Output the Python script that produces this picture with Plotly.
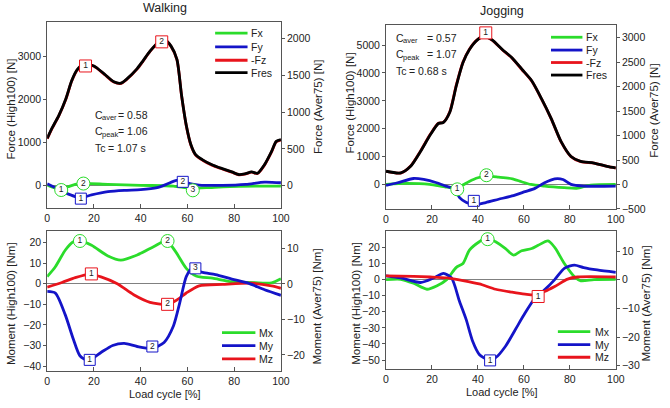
import plotly.graph_objects as go

W, H = 670, 408
FONT = "Liberation Sans, Arial, sans-serif"
GREEN, BLUE, RED, BLACK = "#2bdc2b", "#1414c8", "#e8141c", "#000000"

# ---------------- data ----------------
# Walking forces [N]
walk_fres_x = [0, 2, 5, 8, 10.5, 13, 16, 20, 24.5, 28.5, 31.5, 34, 38.5, 41, 44, 47, 50.5, 53, 55.5, 57.5,
               59.5, 61.5, 63.5, 66.5, 70.5, 74, 79, 82, 84.5, 87.5, 90, 93, 96, 98, 100]
walk_fres = [1100, 1330, 1635, 2020, 2440, 2705, 2820, 2780, 2590, 2415, 2380, 2475, 2720, 2900, 3125, 3300,
             3380, 3240, 2935, 2095, 1405, 950, 720, 600, 485, 413, 320, 260, 275, 320, 290, 490, 795, 1030, 1070]
walk_fz = [1090, 1320, 1625, 2010, 2430, 2695, 2812, 2772, 2582, 2407, 2372, 2467, 2712, 2892, 3117, 3292,
           3372, 3232, 2925, 2085, 1395, 940, 712, 592, 478, 406, 314, 254, 268, 314, 284, 482, 785, 1020, 1060]
walk_fx_x = [0, 3, 6, 9, 12, 16, 26, 40, 54, 61, 68, 82, 100]
walk_fx = [15, -46, -84, -23, 31, 54, 30, 8, -8, -61, -46, -15, -10]
walk_fy_x = [0, 3.5, 7.7, 12, 14.7, 19, 26, 33, 40, 47, 51, 55.3, 58, 61, 65, 75, 85, 93, 100]
walk_fy = [46, -46, -160, -252, -275, -214, -138, -107, -92, -46, 31, 122, 107, 46, 15, 8, 31, 84, 69]

# Jogging forces [N]
jog_fres_x = [0, 6.4, 10.7, 15, 19.2, 22.8, 24.9, 27.8, 30.6, 33.5, 36.3, 39.9, 42.7, 46.3, 50.6, 54.8,
              59.1, 63.4, 67.7, 71.9, 76.2, 80.5, 84.7, 90.5, 96.2, 100]
jog_fres = [473, 414, 650, 1182, 1773, 2187, 2222, 2600, 3546, 4373, 4846, 5200, 5319, 5177, 4846, 4550,
            4137, 3723, 3073, 2364, 1537, 1005, 827, 768, 650, 591]
jog_fz = [468, 409, 660, 1195, 1790, 2195, 2228, 2620, 3570, 4390, 4855, 5205, 5322, 5170, 4836, 4538,
          4125, 3710, 3060, 2352, 1528, 998, 820, 762, 645, 586]
jog_fx_x = [0, 9, 19, 26, 30, 33, 36, 40, 44, 49, 55, 59, 63, 69, 77.6, 83, 89, 100]
jog_fx = [0, 35, 0, -95, -120, -40, 100, 240, 295, 260, 200, 95, 0, -60, -118, -142, -24, 0]
jog_fy_x = [0, 5, 12, 16.4, 22, 26, 30, 32, 35, 38.5, 43.4, 49, 54.8, 60.5, 64.8, 69, 73.4, 77, 80.5, 86, 100]
jog_fy = [-35, 60, 213, 177, 60, -60, -177, -473, -650, -733, -650, -532, -414, -260, -142, 60, 200, 177, 0, -60, -60]

# Walking moments [Nm]
walk_mx_x = [0, 3.5, 7.7, 11, 14, 19, 26, 31.5, 38.5, 45.5, 51, 55, 59.5, 63.7, 70.7, 79, 89, 96, 100]
walk_mx = [3.5, 8.3, 16.3, 20.3, 21, 18.7, 13.5, 11.5, 14, 18, 21, 15.5, 7.5, 3.8, 2.7, 1, 0.5, 0.5, 2.5]
walk_my_x = [0, 3.5, 7.7, 11.2, 14, 17.5, 23, 28, 33, 38.5, 45, 50, 54, 56.7, 59.5, 62, 66.5, 72, 79, 86, 93, 100]
walk_my = [-3.7, -4.5, -15, -27, -35, -37.4, -33.4, -30, -29, -30.5, -31.4, -28.5, -20.5, -9.3, 3.5, 7.5,
           5.5, 4.5, 2.3, 0.3, -2.9, -5.6]
walk_mz_x = [0, 6.3, 12, 18, 23, 30, 37, 44, 51, 55.3, 59.5, 65, 75, 87.5, 96, 100]
walk_mz = [-1.6, 0.6, 3, 4.6, 3.4, 0, -5.3, -9, -10, -8, -4.5, -1, -0.3, 0.3, -1, -2.2]

# Jogging moments [Nm]
jog_mx_x = [0, 6.4, 12, 17.8, 22, 26.4, 30.6, 33.5, 36.3, 40.6, 44, 47.7, 52, 55.5, 59, 63.4, 66.2, 70.5,
            73.4, 77.6, 82, 84.8, 90.5, 100]
jog_mx = [0, 0.2, -2.3, -6, -4, 0, 7.6, 10, 18.3, 23.5, 26, 23.5, 19.3, 15.2, 17.9, 19.3, 21.3, 24, 20, 10,
          1.8, -0.8, 0, 0.2]
jog_my_x = [0, 6.4, 15, 20.7, 25, 28.5, 32, 34.9, 37.7, 40.6, 44, 47.7, 52, 56.3, 60.5, 64.8, 69, 73.4,
            77.6, 82, 86, 91.9, 100]
jog_my = [2.3, 1, -1.8, 1, 3.9, 1, -13.6, -24.9, -38.3, -46.5, -49.6, -48.5, -41.4, -31, -20.8, -11.5,
          -6.4, 0, 7, 9, 7.5, 6, 4.5]
jog_mz_x = [0, 12, 19.2, 26.4, 33.5, 40.6, 47.7, 54.8, 60.5, 64.8, 69, 73.4, 79, 83.3, 100]
jog_mz = [2.3, 2, 1.6, 1, -0.6, -2.7, -6, -7.8, -9, -9.5, -7.4, -4.3, 0.3, 1.6, 1.6]

# Peak labels
walk_fx_mk_x, walk_fx_mk_y, walk_fx_mk = [6, 15.5, 62.3], [-100, 50, -107], ["1", "2", "3"]
walk_fy_mk_x, walk_fy_mk_y, walk_fy_mk = [14.4, 58], [-300, 90], ["1", "2"]
walk_fz_mk_x, walk_fz_mk_y, walk_fz_mk = [16.4, 49], [2780, 3340], ["1", "2"]
jog_fx_mk_x, jog_fx_mk_y, jog_fx_mk = [31, 43.7], [-177, 330], ["1", "2"]
jog_fy_mk_x, jog_fy_mk_y, jog_fy_mk = [38.2], [-590], ["1"]
jog_fz_mk_x, jog_fz_mk_y, jog_fz_mk = [43.4], [5440], ["1"]
walk_mx_mk_x, walk_mx_mk_y, walk_mx_mk = [14, 51.5], [20.8, 20.8], ["1", "2"]
walk_my_mk_x, walk_my_mk_y, walk_my_mk = [18.2, 45, 63.4], [-37, -30.5, 7.5], ["1", "2", "3"]
walk_mz_mk_x, walk_mz_mk_y, walk_mz_mk = [18.9, 51.5], [4.8, -10], ["1", "2"]
jog_mx_mk_x, jog_mx_mk_y, jog_mx_mk = [44.2], [25.1], ["1"]
jog_my_mk_x, jog_my_mk_y, jog_my_mk = [45.3], [-50.2], ["1"]
jog_mz_mk_x, jog_mz_mk_y, jog_mz_mk = [66.2], [-10.5], ["1"]

x_ticks = [0, 20, 40, 60, 80, 100]
force_legend = ["Fx", "Fy", "-Fz", "Fres"]
moment_legend = ["Mx", "My", "Mz"]

# ---------------- figure ----------------
fig = go.Figure()
LW = 2.8


def line(x, y, color, xa, ya, width=LW):
    fig.add_trace(go.Scatter(x=x, y=y, mode="lines", xaxis=xa, yaxis=ya, showlegend=False,
                             line=dict(color=color, width=width, shape="spline", smoothing=0.7),
                             hoverinfo="skip"))


def marks(x, y, labels, color, symbol, size, xa, ya):
    fig.add_trace(go.Scatter(x=x, y=y, text=labels, mode="markers+text", xaxis=xa, yaxis=ya,
                             showlegend=False, textposition="middle center",
                             textfont=dict(family=FONT, size=8.5, color="#222"),
                             marker=dict(symbol=symbol, size=size, color="white",
                                         line=dict(color=color, width=1)),
                             hoverinfo="skip"))


def empty(xa, ya):
    fig.add_trace(go.Scatter(x=[], y=[], xaxis=xa, yaxis=ya, showlegend=False, hoverinfo="skip"))


# Top-left: walking forces
line(walk_fx_x, walk_fx, GREEN, "x", "y")
line(walk_fy_x, walk_fy, BLUE, "x", "y")
line(walk_fres_x, walk_fz, RED, "x", "y")
line(walk_fres_x, walk_fres, BLACK, "x", "y")
marks(walk_fx_mk_x, walk_fx_mk_y, walk_fx_mk, GREEN, "circle", 13, "x", "y")
marks(walk_fy_mk_x, walk_fy_mk_y, walk_fy_mk, BLUE, "square", 11, "x", "y")
marks(walk_fz_mk_x, walk_fz_mk_y, walk_fz_mk, RED, "square", 12, "x", "y")
empty("x", "y2")

# Top-right: jogging forces
line(jog_fx_x, jog_fx, GREEN, "x2", "y3")
line(jog_fy_x, jog_fy, BLUE, "x2", "y3")
line(jog_fres_x, jog_fz, RED, "x2", "y3")
line(jog_fres_x, jog_fres, BLACK, "x2", "y3")
marks(jog_fx_mk_x, jog_fx_mk_y, jog_fx_mk, GREEN, "circle", 13, "x2", "y3")
marks(jog_fy_mk_x, jog_fy_mk_y, jog_fy_mk, BLUE, "square", 11, "x2", "y3")
marks(jog_fz_mk_x, jog_fz_mk_y, jog_fz_mk, RED, "square", 12, "x2", "y3")
empty("x2", "y4")

# Bottom-left: walking moments
line(walk_mx_x, walk_mx, GREEN, "x3", "y5")
line(walk_mz_x, walk_mz, RED, "x3", "y5")
line(walk_my_x, walk_my, BLUE, "x3", "y5")
marks(walk_mx_mk_x, walk_mx_mk_y, walk_mx_mk, GREEN, "circle", 13, "x3", "y5")
marks(walk_my_mk_x, walk_my_mk_y, walk_my_mk, BLUE, "square", 11, "x3", "y5")
marks(walk_mz_mk_x, walk_mz_mk_y, walk_mz_mk, RED, "square", 12, "x3", "y5")
empty("x3", "y6")

# Bottom-right: jogging moments
line(jog_mx_x, jog_mx, GREEN, "x4", "y7")
line(jog_my_x, jog_my, BLUE, "x4", "y7")
line(jog_mz_x, jog_mz, RED, "x4", "y7")
marks(jog_mx_mk_x, jog_mx_mk_y, jog_mx_mk, GREEN, "circle", 13, "x4", "y7")
marks(jog_my_mk_x, jog_my_mk_y, jog_my_mk, BLUE, "square", 11, "x4", "y7")
marks(jog_mz_mk_x, jog_mz_mk_y, jog_mz_mk, RED, "square", 12, "x4", "y7")
empty("x4", "y8")


def px(v):
    return v / W


def py(v):
    return 1 - v / H


AX = "#555"
TF = dict(family=FONT, size=10.5, color="#222")


def xax(dom, anchor):
    return dict(domain=dom, anchor=anchor, range=[0, 100], tickvals=x_ticks, showline=True,
                linecolor=AX, linewidth=1, mirror=True, ticks="inside", ticklen=4, tickcolor=AX,
                showgrid=False, zeroline=False, tickfont=TF, fixedrange=True)


def yleft(dom, anchor, rng, ticks):
    return dict(domain=dom, anchor=anchor, range=rng, tickvals=ticks, showline=True, linecolor=AX,
                linewidth=1, ticks="outside", ticklen=3, tickcolor=AX, showgrid=False, zeroline=True,
                zerolinecolor="#808080", zerolinewidth=1, tickfont=TF, fixedrange=True)


def yright(over, anchor, rng, ticks):
    return dict(overlaying=over, anchor=anchor, side="right", range=rng, tickvals=ticks, showline=True,
                linecolor=AX, linewidth=1, ticks="outside", ticklen=3, tickcolor=AX, showgrid=False,
                zeroline=False, tickfont=TF, fixedrange=True)


xd_l = [px(45), px(283)]
xd_r = [px(390), px(624)]

fig.update_layout(
    width=W, height=H, autosize=False, margin=dict(l=0, r=0, t=0, b=0),
    paper_bgcolor="white", plot_bgcolor="white", hovermode=False, showlegend=False,
    font=dict(family=FONT, size=11, color="#222"),
    xaxis=xax(xd_l, "y"),
    yaxis=yleft([py(211), py(22)], "x", [-527, 3807], [0, 1000, 2000, 3000]),
    yaxis2=yright("y", "x", [-309, 2228], [0, 500, 1000, 1500, 2000]),
    xaxis2=xax(xd_r, "y3"),
    yaxis3=yleft([py(212), py(25)], "x2", [-897, 5734], [0, 1000, 2000, 3000, 4000, 5000]),
    yaxis4=yright("y3", "x2", [-510, 3267], [-500, 0, 500, 1000, 1500, 2000, 2500, 3000]),
    xaxis3=xax(xd_l, "y5"),
    yaxis5=yleft([py(376), py(234)], "x3", [-42.6, 25.6], [-40, -30, -20, -10, 0, 10, 20]),
    yaxis6=yright("y5", "x3", [-24.65, 14.9], [-20, -10, 0, 10]),
    xaxis4=xax(xd_r, "y7"),
    yaxis7=yleft([py(374), py(234)], "x4", [-55.8, 30.1], [-50, -40, -30, -20, -10, 0, 10, 20]),
    yaxis8=yright("y7", "x4", [-31.3, 17.0], [-30, -20, -10, 0, 10]),
)

ann = []


def text(x, y, s, size=11, xanchor="center", angle=0):
    ann.append(dict(x=px(x), y=py(y), xref="paper", yref="paper", text=s, showarrow=False,
                    xanchor=xanchor, yanchor="middle", textangle=angle, borderpad=0,
                    font=dict(family=FONT, size=size, color="#222")))


# titles
text(165, 8.5, "Walking", 12.5)
text(508, 11.5, "Jogging", 12.5)
# axis titles
text(8, 110, "Force (High100) [N]", 11.5, angle=-90)
text(320, 108, "Force (Aver75) [N]", 11.5, angle=-90)
text(353, 104, "Force (High100) [N]", 11.5, angle=-90)
text(663, 112, "Force (Aver75) [N]", 11.5, angle=-90)
text(8, 307, "Moment (High100) [Nm]", 11.5, angle=-90)
text(320, 310, "Moment (Aver75) [Nm]", 11.5, angle=-90)
text(360, 307, "Moment (High100) [Nm]", 11.5, angle=-90)
text(655, 307, "Moment (Aver75) [Nm]", 11.5, angle=-90)
text(165, 399, "Load cycle [%]", 11)
text(508, 397, "Load cycle [%]", 11)
# coefficients (walking)
text(92.5, 116, "C", 10.5, "left")
text(100, 119, "aver", 7.5, "left")
text(116, 116, "= 0.58", 10.5, "left")
text(92.5, 133, "C", 10.5, "left")
text(100, 136, "peak", 7.5, "left")
text(116, 133, "= 1.06", 10.5, "left")
text(92.5, 150, "Tc", 10.5, "left")
text(106, 150, "= 1.07 s", 10.5, "left")
# coefficients (jogging)
text(399, 38.3, "C", 10.5, "left")
text(406.5, 41.3, "aver", 7.5, "left")
text(430.5, 38.3, "= 0.57", 10.5, "left")
text(399, 54.5, "C", 10.5, "left")
text(406.5, 57.8, "peak", 7.5, "left")
text(430.5, 54.5, "= 1.07", 10.5, "left")
text(399, 71.7, "Tc", 10.5, "left")
text(412.5, 71.7, "= 0.68 s", 10.5, "left")

# manual legends
shapes = []


def legend(x0, x1, xt, ys, names, colors):
    for y, n, c in zip(ys, names, colors):
        shapes.append(dict(type="line", xref="paper", yref="paper", x0=px(x0), x1=px(x1),
                           y0=py(y), y1=py(y), line=dict(color=c, width=LW)))
        text(xt, y, n, 10.5, "left")


legend(216, 249, 252, [33.5, 47.5, 61, 73.5], force_legend, [GREEN, BLUE, RED, BLACK])
legend(558, 590, 593, [37.7, 50.7, 63.3, 76], force_legend, [GREEN, BLUE, RED, BLACK])
legend(223, 257, 260, [336.7, 350, 363.3], moment_legend, [GREEN, BLUE, RED])
legend(565, 598, 602, [335.7, 349, 361.7], moment_legend, [GREEN, BLUE, RED])

fig.update_layout(annotations=ann, shapes=shapes)

fig.write_html("out.html", config={"displayModeBar": False, "staticPlot": True},
               post_script="document.body.style.margin='0';document.body.style.padding='0';"
                           "document.body.style.overflow='hidden';")
